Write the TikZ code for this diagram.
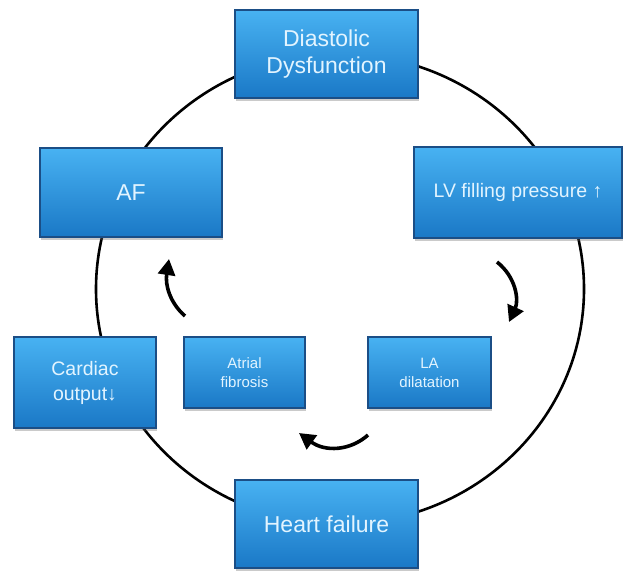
\documentclass[tikz,border=0pt]{standalone}
\usepackage{fontspec}
\setmainfont{Liberation Sans}
\usetikzlibrary{arrows.meta,shadows}
\definecolor{boxtop}{HTML}{48B2F2}
\definecolor{boxbot}{HTML}{1A78C6}
\definecolor{boxedge}{HTML}{1B4E86}
\definecolor{boxtext}{HTML}{E2F4FF}
\tikzset{
  bluebox/.style={draw=boxedge, line width=1.8pt, top color=boxtop, bottom color=boxbot,
    text=boxtext, align=center, inner sep=2pt,
    drop shadow={shadow xshift=1pt, shadow yshift=-2.5pt, opacity=0.35, fill=black!60}},
  cyc/.style={line width=3.6pt, -{Triangle[length=16pt,width=17pt]}},
}
\begin{document}
\begin{tikzpicture}[x=1pt,y=-1pt]
\useasboundingbox (0,0) rectangle (631,574);
\draw[line width=2.6pt] (340,289) ellipse [x radius=244, y radius=235];
\node[bluebox, minimum width=183pt, minimum height=88pt, font=\fontsize{23}{27}\selectfont] (dd) at (326.5,54) {Diastolic\\Dysfunction};
\node[bluebox, minimum width=182pt, minimum height=89pt, font=\fontsize{23}{27}\selectfont] (af) at (131,192.5) {AF};
\node[bluebox, minimum width=208pt, minimum height=91pt, font=\fontsize{19.5}{23}\selectfont] (lv) at (518,192.5) {LV filling pressure ↑};
\node[bluebox, minimum width=142pt, minimum height=91pt, font=\fontsize{19.5}{25}\selectfont] (co) at (85,382.5) {Cardiac\\output↓};
\node[bluebox, minimum width=121pt, minimum height=71pt, font=\fontsize{15}{19}\selectfont] (fib) at (244.5,372.5) {Atrial\\fibrosis};
\node[bluebox, minimum width=123pt, minimum height=71pt, font=\fontsize{15}{19}\selectfont] (la) at (429.5,372.5) {LA\\dilatation};
\node[bluebox, minimum width=183pt, minimum height=88pt, font=\fontsize{23}{27}\selectfont] (hf) at (326.5,524) {Heart failure};
\coordinate (r1) at (497,262);
\coordinate (r2) at (509,322);
\coordinate (b1) at (368,435);
\coordinate (b2) at (299,433);
\coordinate (l1) at (185,316);
\coordinate (l2) at (169,259);
\draw[cyc] (r1) .. controls (516,277) and (519,300) .. (r2);
\draw[cyc] (b1) .. controls (350,451) and (325,452) .. (b2);
\draw[cyc] (l1) .. controls (170,303) and (165,285) .. (l2);
\end{tikzpicture}
\end{document}
